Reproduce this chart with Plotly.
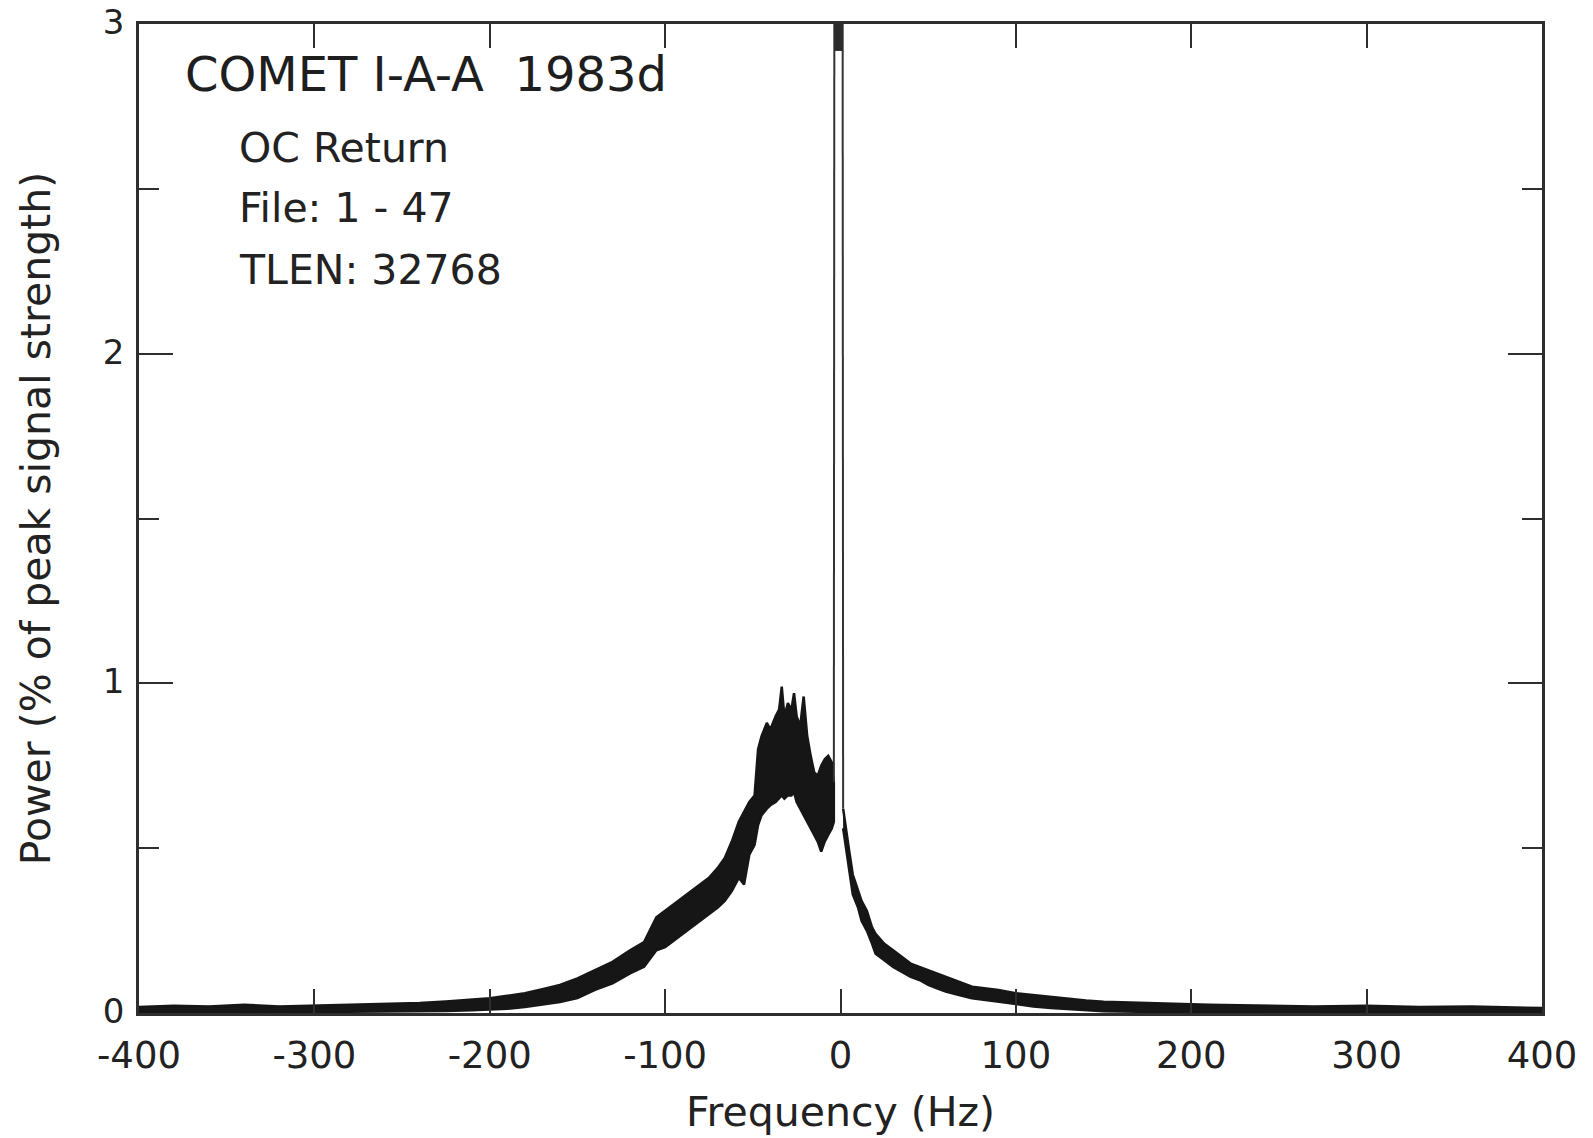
import plotly.graph_objects as go

# ---- data ----
# Left of the carrier spike: frequency (Hz), upper and lower edge of the noisy band (% of peak)
left_hz = [-400, -380, -360, -340, -320, -300, -280, -260, -240, -225, -210, -200, -190, -180,
           -170, -160, -150, -140, -130, -120, -112, -105, -100, -95, -90, -85, -80, -75, -70,
           -66, -62, -58, -55, -52, -49, -47, -45, -42, -40, -37, -35, -33.5, -32, -30, -28,
           -26.5, -25, -23, -21, -19, -17, -15, -13, -11, -9, -7, -5, -3.8]
left_upper = [0.018, 0.022, 0.020, 0.025, 0.020, 0.022, 0.024, 0.026, 0.030, 0.035, 0.040, 0.045,
              0.052, 0.060, 0.072, 0.085, 0.105, 0.130, 0.155, 0.190, 0.215, 0.290, 0.310, 0.330,
              0.350, 0.370, 0.390, 0.410, 0.440, 0.470, 0.520, 0.580, 0.610, 0.640, 0.660, 0.800,
              0.840, 0.880, 0.860, 0.900, 0.920, 0.990, 0.900, 0.940, 0.920, 0.970, 0.900, 0.870,
              0.960, 0.840, 0.780, 0.730, 0.720, 0.750, 0.770, 0.780, 0.760, 0.700]
left_lower = [0.000, 0.002, 0.000, 0.003, 0.002, 0.003, 0.003, 0.004, 0.005, 0.006, 0.008, 0.010,
              0.013, 0.018, 0.025, 0.033, 0.045, 0.070, 0.090, 0.120, 0.140, 0.190, 0.200, 0.220,
              0.240, 0.260, 0.280, 0.300, 0.320, 0.340, 0.370, 0.410, 0.390, 0.480, 0.510, 0.570,
              0.600, 0.620, 0.630, 0.640, 0.650, 0.660, 0.650, 0.660, 0.660, 0.670, 0.640, 0.620,
              0.600, 0.580, 0.560, 0.540, 0.520, 0.490, 0.520, 0.540, 0.560, 0.580]

# Right of the carrier spike
right_hz = [1.5, 3, 5, 7, 10, 12, 15, 18, 20, 25, 30, 35, 40, 45, 50, 55, 60, 67, 75, 82, 90,
            100, 110, 120, 130, 140, 150, 170, 190, 210, 240, 270, 300, 330, 360, 400]
right_upper = [0.62, 0.57, 0.49, 0.42, 0.37, 0.34, 0.31, 0.26, 0.24, 0.21, 0.19, 0.17, 0.15, 0.14,
               0.13, 0.12, 0.11, 0.095, 0.080, 0.075, 0.070, 0.060, 0.054, 0.048, 0.044, 0.038,
               0.034, 0.030, 0.028, 0.025, 0.022, 0.020, 0.022, 0.018, 0.020, 0.015]
right_lower = [0.56, 0.50, 0.43, 0.36, 0.32, 0.28, 0.25, 0.21, 0.18, 0.16, 0.14, 0.125, 0.11, 0.10,
               0.085, 0.075, 0.065, 0.055, 0.045, 0.040, 0.035, 0.027, 0.020, 0.015, 0.010, 0.008,
               0.005, 0.004, 0.004, 0.003, 0.002, 0.002, 0.003, 0.002, 0.002, 0.000]

# Carrier spike (runs off the top of the plot)
spike_left_hz = [-3.8, -3.5, -3.5]
spike_left_power = [0.70, 2.92, 3.20]
spike_right_hz = [1.2, 1.2, 1.5]
spike_right_power = [3.20, 2.92, 0.62]
# Saturated (clipped) top of the spike
clip_hz = [-3.5, 1.2, 1.2, -3.5]
clip_power = [2.92, 2.92, 3.0, 3.0]

x_tick_vals = [-400, -300, -200, -100, 0, 100, 200, 300, 400]
x_tick_labels = ["-400", "-300", "-200", "-100", "0", "100", "200", "300", "400"]
y_tick_vals = [0, 1, 2, 3]
y_tick_labels = ["0", "1", "2", "3"]

title_line = "COMET I-A-A\u00a0\u00a01983d"
info_lines = ["OC Return", "File: 1 - 47", "TLEN: 32768"]

INK = "#161616"
AXIS = "#2e2e2e"
TXT = "#222222"
FONT = "DejaVu Sans"

fig = go.Figure()

# noisy band, drawn as a closed polygon between its edges
for hz, up, lo in [(left_hz, left_upper, left_lower), (right_hz, right_upper, right_lower)]:
    fig.add_trace(go.Scatter(
        x=hz + hz[::-1], y=up + lo[::-1], mode="lines", fill="toself",
        fillcolor=INK, line=dict(color=INK, width=2.5), hoverinfo="skip", showlegend=False))

fig.add_trace(go.Scatter(x=spike_left_hz, y=spike_left_power, mode="lines",
                         line=dict(color="#333333", width=2), showlegend=False))
fig.add_trace(go.Scatter(x=spike_right_hz, y=spike_right_power, mode="lines",
                         line=dict(color="#333333", width=2), showlegend=False))
fig.add_trace(go.Scatter(x=clip_hz, y=clip_power, mode="lines", fill="toself",
                         fillcolor="#2a2a2a", line=dict(color="#2a2a2a", width=1),
                         showlegend=False))

fig.update_layout(
    width=1593, height=1138,
    margin=dict(l=139, r=51, t=24, b=125, autoexpand=False),
    paper_bgcolor="white", plot_bgcolor="white",
    font=dict(family=FONT, color=TXT, size=36),
    showlegend=False,
)

fig.update_xaxes(
    range=[-400, 400], tickvals=x_tick_vals, ticktext=x_tick_labels,
    ticks="inside", ticklen=24, tickwidth=2, tickcolor=AXIS,
    showline=True, linewidth=2.5, linecolor=AXIS, mirror="ticks",
    showgrid=False, zeroline=False, automargin=False,
    tickfont=dict(size=37, family=FONT, color=TXT),
    ticklabelstandoff=8, ticklabeloverflow="allow",
    title=dict(text="Frequency (Hz)", font=dict(size=41, family=FONT, color=TXT), standoff=22),
)
fig.update_yaxes(
    range=[0, 3], tickvals=y_tick_vals, ticktext=y_tick_labels,
    ticks="inside", ticklen=34, tickwidth=2, tickcolor=AXIS,
    minor=dict(dtick=0.5, ticks="inside", ticklen=20, tickwidth=2, tickcolor=AXIS),
    showline=True, linewidth=2.5, linecolor=AXIS, mirror="ticks",
    showgrid=False, zeroline=False, automargin=False,
    tickfont=dict(size=34, family=FONT, color=TXT),
    ticklabelstandoff=5, ticklabelshift=-2, ticklabeloverflow="allow",
    title=dict(text="Power (% of peak signal strength)",
               font=dict(size=41, family=FONT, color=TXT), standoff=40),
)

fig.add_annotation(text=title_line, xref="paper", yref="paper", x=0.0314, y=0.9496,
                   xanchor="left", yanchor="middle", showarrow=False,
                   font=dict(size=48, family=FONT, color="#1e1e1e"))
for txt, yp in zip(info_lines, [0.8751, 0.8135, 0.7516]):
    fig.add_annotation(text=txt, xref="paper", yref="paper", x=0.0698, y=yp,
                       xanchor="left", yanchor="middle", showarrow=False,
                       font=dict(size=41, family=FONT, color=TXT))

fig.write_html("out.html")
